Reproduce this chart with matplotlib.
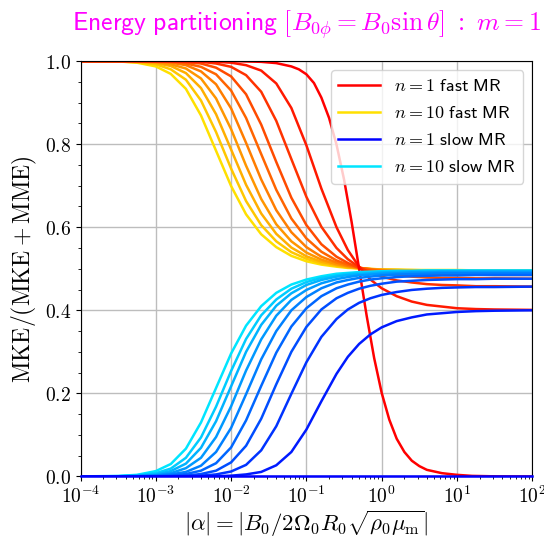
import numpy as np
import matplotlib
matplotlib.use('Agg')
from matplotlib import pyplot as plt
from matplotlib.ticker import FuncFormatter, MultipleLocator

plt.rcParams['mathtext.fontset'] = 'cm'
plt.rcParams['font.family'] = ['DejaVu Sans']

# |alpha| sample positions (read along the x axis)
alpha = [1e-4, 3.16e-4, 5.62e-4, 1e-3, 1.58e-3, 2.51e-3, 3.98e-3, 6.31e-3,
         1e-2, 1.58e-2, 2.51e-2, 3.98e-2, 6.31e-2, 0.1, 0.158, 0.251, 0.355,
         0.501, 0.708, 1.0, 1.58, 2.51, 3.98, 6.31, 10.0, 17.8, 31.6, 100.0]

# fast MR n = 1 falls steeply, so it is read on its own finer set of points
alpha_f1 = [1e-4, 1e-2, 2.51e-2, 3.98e-2, 6.31e-2, 7.94e-2, 0.1, 0.126, 0.158, 0.2,
            0.251, 0.316, 0.398, 0.501, 0.631, 0.794, 1.0, 1.26, 1.58, 2.0,
            2.51, 3.16, 3.98, 6.31, 10.0, 15.8, 31.6, 100.0]
fast_n1 = [1.0, 1.0, 0.998, 0.995, 0.987, 0.980, 0.968, 0.947, 0.912, 0.863,
           0.799, 0.715, 0.613, 0.500, 0.387, 0.285, 0.201, 0.137, 0.091, 0.059,
           0.038, 0.025, 0.016, 0.008, 0.004, 0.0015, 0.0004, 0.0]

# MKE/(MKE+MME), fast MR branch, n = 2 ... 10
fast = [
    [1.0, 1.0, 1.0, 1.0, 1.0, 1.0, 0.999, 0.998, 0.996, 0.990, 0.977, 0.946, 0.887, 0.797,
     0.693, 0.600, 0.545, 0.505, 0.474, 0.453, 0.434, 0.421, 0.413, 0.409, 0.405, 0.403, 0.402, 0.401],
    [1.0, 1.0, 1.0, 1.0, 1.0, 0.999, 0.998, 0.994, 0.986, 0.966, 0.926, 0.856, 0.764, 0.673,
     0.601, 0.550, 0.523, 0.504, 0.490, 0.481, 0.472, 0.467, 0.463, 0.461, 0.460, 0.458, 0.458, 0.457],
    [1.0, 1.0, 1.0, 1.0, 0.999, 0.997, 0.994, 0.984, 0.963, 0.920, 0.847, 0.757, 0.671, 0.605,
     0.559, 0.529, 0.514, 0.502, 0.495, 0.489, 0.484, 0.481, 0.479, 0.478, 0.478, 0.477, 0.477, 0.476],
    [1.0, 1.0, 1.0, 0.999, 0.998, 0.994, 0.986, 0.968, 0.929, 0.863, 0.776, 0.690, 0.621, 0.573,
     0.541, 0.520, 0.510, 0.503, 0.498, 0.494, 0.491, 0.489, 0.487, 0.486, 0.486, 0.486, 0.485, 0.485],
    [1.0, 1.0, 1.0, 0.998, 0.996, 0.990, 0.975, 0.944, 0.886, 0.803, 0.715, 0.641, 0.588, 0.552,
     0.529, 0.515, 0.507, 0.502, 0.499, 0.496, 0.494, 0.492, 0.491, 0.491, 0.490, 0.490, 0.490, 0.490],
    [1.0, 1.0, 0.999, 0.997, 0.992, 0.982, 0.958, 0.910, 0.836, 0.748, 0.668, 0.607, 0.566, 0.539,
     0.522, 0.511, 0.506, 0.502, 0.499, 0.497, 0.495, 0.494, 0.494, 0.493, 0.493, 0.493, 0.493, 0.492],
    [1.0, 1.0, 0.998, 0.995, 0.988, 0.971, 0.935, 0.872, 0.787, 0.702, 0.633, 0.584, 0.551, 0.530,
     0.517, 0.509, 0.504, 0.501, 0.499, 0.498, 0.497, 0.496, 0.495, 0.495, 0.495, 0.494, 0.494, 0.494],
    [1.0, 0.999, 0.997, 0.992, 0.980, 0.955, 0.905, 0.829, 0.741, 0.663, 0.605, 0.566, 0.540, 0.524,
     0.513, 0.507, 0.503, 0.501, 0.500, 0.498, 0.497, 0.497, 0.496, 0.496, 0.496, 0.496, 0.496, 0.495],
    [1.0, 0.999, 0.996, 0.987, 0.969, 0.933, 0.869, 0.784, 0.699, 0.631, 0.583, 0.552, 0.531, 0.518,
     0.510, 0.505, 0.502, 0.501, 0.499, 0.498, 0.498, 0.497, 0.497, 0.497, 0.497, 0.496, 0.496, 0.496],
]

# MKE/(MKE+MME), slow MR branch, n = 1 ... 10
slow = [
    [0.0] * 28,
    [0.0, 0.0, 0.0, 0.0, 0.0, 0.0, 0.0003, 0.0007, 0.002, 0.005, 0.011, 0.027, 0.059, 0.113,
     0.181, 0.247, 0.288, 0.319, 0.342, 0.359, 0.374, 0.383, 0.390, 0.393, 0.396, 0.398, 0.399, 0.400],
    [0.0, 0.0, 0.0, 0.0001, 0.0004, 0.001, 0.002, 0.005, 0.012, 0.028, 0.063, 0.121, 0.199, 0.275,
     0.336, 0.379, 0.402, 0.418, 0.429, 0.437, 0.444, 0.449, 0.452, 0.454, 0.455, 0.456, 0.456, 0.457],
    [0.0, 0.0, 0.0001, 0.0004, 0.001, 0.002, 0.006, 0.014, 0.034, 0.074, 0.139, 0.222, 0.300, 0.360,
     0.402, 0.429, 0.442, 0.452, 0.459, 0.464, 0.469, 0.471, 0.473, 0.474, 0.475, 0.475, 0.476, 0.476],
    [0.0, 0.0001, 0.0003, 0.001, 0.002, 0.006, 0.014, 0.032, 0.070, 0.135, 0.218, 0.298, 0.361, 0.405,
     0.434, 0.453, 0.462, 0.469, 0.474, 0.477, 0.480, 0.482, 0.483, 0.484, 0.484, 0.485, 0.485, 0.485],
    [0.0, 0.0002, 0.0006, 0.002, 0.005, 0.011, 0.026, 0.059, 0.117, 0.198, 0.282, 0.350, 0.400, 0.432,
     0.453, 0.467, 0.473, 0.478, 0.481, 0.484, 0.486, 0.487, 0.488, 0.489, 0.489, 0.489, 0.489, 0.489],
    [0.0, 0.0004, 0.001, 0.003, 0.008, 0.020, 0.045, 0.095, 0.169, 0.255, 0.330, 0.387, 0.425, 0.449,
     0.465, 0.475, 0.480, 0.484, 0.486, 0.488, 0.489, 0.491, 0.491, 0.492, 0.492, 0.492, 0.492, 0.492],
    [0.0001, 0.0005, 0.002, 0.005, 0.013, 0.031, 0.069, 0.133, 0.217, 0.300, 0.365, 0.411, 0.441, 0.461,
     0.473, 0.481, 0.485, 0.487, 0.489, 0.491, 0.492, 0.493, 0.493, 0.494, 0.494, 0.494, 0.494, 0.494],
    [0.0001, 0.0008, 0.003, 0.008, 0.019, 0.045, 0.094, 0.168, 0.254, 0.331, 0.388, 0.426, 0.452, 0.468,
     0.478, 0.484, 0.488, 0.490, 0.491, 0.493, 0.494, 0.494, 0.495, 0.495, 0.495, 0.495, 0.495, 0.495],
    [0.0002, 0.0013, 0.004, 0.013, 0.030, 0.067, 0.130, 0.213, 0.296, 0.363, 0.410, 0.442, 0.462, 0.474,
     0.482, 0.488, 0.490, 0.492, 0.493, 0.494, 0.495, 0.495, 0.496, 0.496, 0.496, 0.496, 0.496, 0.496],
]

n_values = list(range(1, 11))
xticks = [1e-4, 1e-3, 1e-2, 1e-1, 1e0, 1e1, 1e2]

fig = plt.figure(figsize=(5.44, 5.40), dpi=100)
ax = fig.add_axes([0.148, 0.1176, 0.8305, 0.7694])

fast_cols = [(1.0, 0.88 * i / 9, 0.0) for i in range(10)]
slow_cols = [(0.0, 0.9 * i / 9, 1.0) for i in range(10)]
lw = 1.8

lines = {}
for i in reversed(range(1, 10)):
    lines[('f', i)], = ax.plot(alpha, fast[i - 1], color=fast_cols[i], lw=lw)
lines[('f', 0)], = ax.plot(alpha_f1, fast_n1, color=fast_cols[0], lw=lw)
for i in reversed(range(1, 10)):
    lines[('s', i)], = ax.plot(alpha, slow[i], color=slow_cols[i], lw=lw)
# n = 1 slow MR sits on the lower axis line; draw it over the spine
lines[('s', 0)], = ax.plot(alpha, slow[0], color=slow_cols[0], lw=lw, clip_on=False, zorder=3)

ax.set_xscale('log')
ax.set_xlim(1e-4, 1e2)
ax.set_ylim(0, 1)
ax.set_xticks(xticks)
ax.xaxis.set_major_formatter(FuncFormatter(lambda v, p: r'$10^{%d}$' % round(np.log10(v))))
ax.yaxis.set_major_locator(MultipleLocator(0.2))
ax.yaxis.set_minor_locator(MultipleLocator(0.05))
ax.yaxis.set_major_formatter(FuncFormatter(lambda v, p: r'$%.1f$' % v))
ax.tick_params(labelsize=14)
ax.grid(True, which='major', color='#bdbdbd', lw=1.0)

ax.set_xlabel(r'$|\alpha| = |B_0/2\Omega_0 R_0\sqrt{\rho_0\mu_\mathrm{m}}|$', fontsize=16.5, labelpad=1)
ax.set_ylabel(r'$\mathrm{MKE}/(\mathrm{MKE} + \mathrm{MME})$', fontsize=17)
ax.set_title(r'$\mathsf{Energy\ partitioning}\ [B_{0\phi} = B_0\sin\theta]\ \mathsf{:}\ m = \mathsf{1}$',
             color='magenta', fontsize=18.5, pad=22)

handles = [lines[('f', 0)], lines[('f', 9)], lines[('s', 0)], lines[('s', 9)]]
labels = [r'$n = %d$ $\mathsf{fast\ MR}$' % n_values[0], r'$n = %d$ $\mathsf{fast\ MR}$' % n_values[9],
          r'$n = %d$ $\mathsf{slow\ MR}$' % n_values[0], r'$n = %d$ $\mathsf{slow\ MR}$' % n_values[9]]
ax.legend(handles, labels, loc='upper right', fontsize=13, handlelength=2.3)

fig.savefig('out.png', dpi=100)
